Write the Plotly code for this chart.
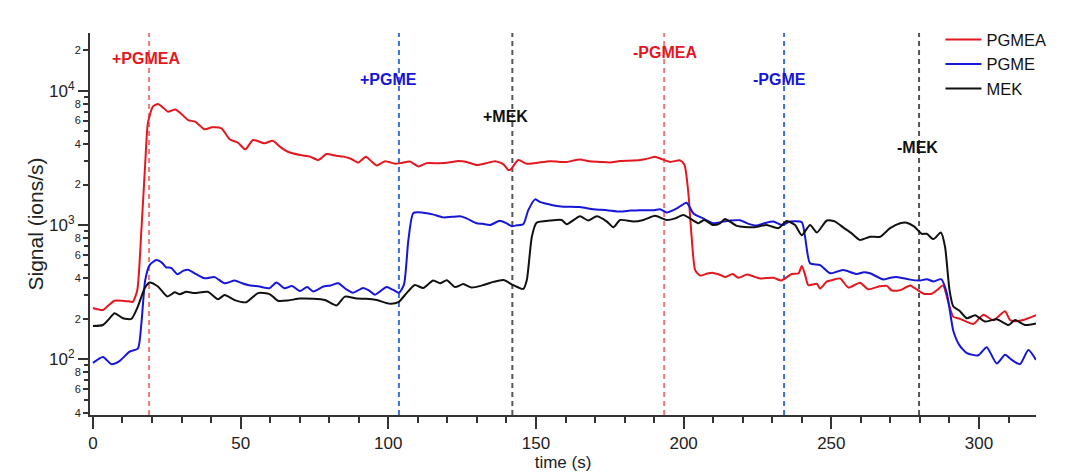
import plotly.graph_objects as go

# ---------------- data ----------------
t_pgmea = [0, 3.4, 5.5, 7.3, 10, 12, 13.5, 15, 16.4, 17.7, 18.6, 20.3, 22, 24, 25.4, 27.9, 30, 32.2, 34.6,
           37.8, 40.3, 43.5, 46.3, 49.1, 51.6, 54.2, 58.1, 60.9, 63.5, 66, 70.1, 73.5, 76.3, 79.1, 82, 84.8,
           87.5, 89.9, 92.4, 94.5, 96.1, 98.9, 102.3, 104.5, 107.3, 110.2, 113, 117.5, 120.5, 123.2, 126.5,
           129.9, 133, 136.2, 139, 140.6, 141.5, 144, 146.9, 150, 154.8, 158.1, 160.4, 164.9, 168, 171.7,
           175.1, 178.5, 183, 186.4, 188.5, 190.3, 192.5, 195.4, 198.8, 200.3, 201.6, 202.7, 203.9, 205.6,
           208, 210, 212, 214, 216.6, 218.5, 221.4, 223.5, 225.9, 230.4, 233, 236.6, 238.9, 240, 241.2,
           242.2, 245.1, 246.2, 248.5, 250.5, 253, 255.8, 259.7, 262.5, 266.5, 268.8, 270.4, 272.2, 273.8,
           276.7, 279, 281.2, 284, 286, 287.8, 289.7, 291.3, 293.5, 295.9, 298.1, 301.5, 304.9, 308.8,
           310.5, 312.2, 315, 319.3]
v_pgmea = [241, 233, 255, 273, 273, 270, 268, 327, 918, 2895, 5740, 7610, 7960, 7400, 6980, 7260, 6700, 6050,
           5880, 5160, 5340, 5250, 4350, 4100, 3660, 4300, 4060, 4240, 3800, 3515, 3320, 3230, 3050, 3380,
           3290, 3230, 3100, 2920, 3230, 2950, 2780, 2990, 2860, 2900, 2970, 2730, 2890, 2880, 2920, 2990,
           2950, 2800, 2880, 2990, 2830, 2570, 2600, 3050, 2860, 2900, 2990, 2950, 2950, 3080, 2980, 2950,
           2920, 3000, 3020, 3080, 3150, 3230, 3100, 2950, 3030, 2800, 1720, 818, 462, 420, 435, 440, 428,
           410, 431, 405, 428, 415, 400, 405, 386, 432, 437, 495, 420, 357, 365, 336, 380, 390, 400, 342,
           372, 332, 350, 352, 326, 324, 330, 355, 330, 308, 308, 330, 355, 261, 207, 200, 190, 183, 215,
           195, 228, 196, 192, 196, 213]

t_pgme = [0, 3.4, 6.2, 9, 12.4, 15.2, 16.4, 17.7, 19.2, 21.5, 23.5, 24.8, 26.5, 28.6, 30.5, 32.2, 35, 37.8,
          41.2, 44.6, 48, 50.5, 52.5, 56.4, 59.8, 62.1, 64.9, 67.4, 70.1, 72.5, 74.6, 78, 80.5, 83.1, 85.5,
          88, 91.5, 93.5, 95.5, 99.4, 101.5, 103.6, 105.3, 106.8, 108.5, 111.8, 115, 118.6, 121.5, 124.3,
          126.5, 129.9, 132, 134.4, 137.8, 140, 141.8, 143.5, 145.7, 147.4, 149.7, 151.5, 153.6, 156.5,
          159.3, 164.9, 169.4, 174, 178.5, 182, 185.2, 190, 192, 194.3, 197.7, 201, 203.3, 206.6, 210,
          213.4, 216, 219.1, 222, 224.7, 228, 230.4, 233.2, 236, 240, 241.1, 242.8, 246.2, 249.6, 252,
          254.1, 258.6, 261, 263.1, 267.6, 270, 272.1, 276.7, 280, 282.3, 284.6, 287.2, 289.1, 291.3,
          293.3, 295.9, 299.8, 302.6, 306, 308.8, 311.1, 313.9, 316.7, 319.3]
v_pgme = [94, 104, 92, 97, 114, 120, 185, 389, 503, 548, 520, 484, 480, 430, 455, 465, 430, 401, 409, 368,
          386, 368, 357, 348, 338, 373, 338, 352, 322, 345, 320, 348, 355, 368, 335, 313, 340, 325, 303,
          345, 330, 313, 360, 774, 1230, 1235, 1200, 1140, 1150, 1160, 1120, 1030, 1020, 1000, 1075, 1030,
          980, 995, 1012, 1290, 1553, 1480, 1440, 1390, 1370, 1360, 1310, 1290, 1260, 1280, 1290, 1290,
          1310, 1240, 1330, 1466, 1220, 1120, 1030, 1060, 1080, 1085, 1020, 990, 1040, 1060, 1000, 1060,
          1050, 818, 519, 503, 437, 450, 462, 432, 445, 437, 393, 405, 410, 392, 386, 395, 380, 395, 312,
          163, 128, 111, 107, 123, 93, 108, 99, 92, 117, 99]

t_mek = [0, 3.4, 5.5, 7.3, 10.2, 13, 15.2, 17.5, 19.2, 22, 25.2, 27.7, 29.4, 31.6, 34.4, 38.9, 42.3, 44.6,
         48, 51.9, 55.9, 59.8, 62.6, 66, 70.1, 74.6, 78.6, 82.5, 85.3, 89.3, 92.5, 96.1, 100.6, 103.4,
         106.2, 109, 111.8, 115.2, 117.5, 119.8, 122.6, 125.4, 128.2, 132.2, 135.6, 139, 142.3, 145.7,
         146.9, 148.6, 150.2, 154.8, 158.7, 160.4, 164.9, 167.7, 170.6, 174, 176.2, 178.5, 183, 186.4,
         190.3, 194.3, 197.1, 199.9, 202.7, 205, 206.9, 210, 212.3, 214, 218, 223.6, 228.1, 232.1, 234.9,
         237.7, 240, 242.8, 245.1, 248.5, 251.3, 254.1, 256.9, 259.7, 263.1, 266.5, 269.9, 273.3, 275.5,
         278, 280.6, 282.3, 284.6, 287.1, 288.5, 290, 291.3, 293.3, 295.9, 298.7, 302, 306, 310, 312.2,
         315.6, 319.3]
v_mek = [177, 180, 200, 220, 202, 200, 247, 338, 373, 348, 293, 315, 305, 318, 312, 318, 280, 301, 276, 266,
         311, 306, 273, 274, 283, 282, 276, 252, 293, 283, 282, 276, 259, 266, 311, 357, 340, 386, 368, 388,
         345, 363, 342, 357, 377, 389, 357, 334, 389, 818, 1040, 1080, 1090, 1013, 1160, 1080, 1160, 1060,
         962, 1090, 1060, 1090, 1170, 1090, 1120, 1185, 1100, 1030, 1090, 1000, 1030, 1110, 986, 962, 1000,
         948, 1070, 1000, 840, 1000, 880, 1080, 1060, 956, 866, 774, 818, 818, 948, 1030, 1040, 976, 860,
         860, 785, 880, 689, 330, 247, 231, 202, 213, 191, 199, 180, 196, 180, 185]

series_names = ["PGMEA", "PGME", "MEK"]
series_colors = ["#e3171f", "#1616d8", "#111111"]

# events (dashed markers)
event_times = [19.0, 103.6, 142.0, 193.4, 234.0, 279.7]
event_labels = ["+PGMEA", "+PGME", "+MEK", "-PGMEA", "-PGME", "-MEK"]
event_line_colors = ["#f07a7a", "#3d6fe0", "#555555", "#f07a7a", "#3d6fe0", "#555555"]
event_text_colors = ["#e3171f", "#1616d8", "#111111", "#e3171f", "#1616d8", "#111111"]
label_x = [17.9, 99.9, 139.8, 193.6, 232.3, 279.2]
label_y = [0.934, 0.877, 0.782, 0.950, 0.879, 0.700]

# axis ticks
x_major = [0, 50, 100, 150, 200, 250, 300]
x_minor = list(range(0, 320, 10))
y_major = [100, 1000, 10000]
y_major_text = ["10<sup>2</sup>", "10<sup>3</sup>", "10<sup>4</sup>"]
y_mid = [40, 60, 80, 200, 400, 600, 800, 2000, 4000, 6000, 8000, 20000]
y_mid_text = ["4", "6", "8", "2", "4", "6", "8", "2", "4", "6", "8", "2"]
y_small = [50, 70, 90, 300, 500, 700, 900, 3000, 5000, 7000, 9000]

x_range = [-1.0, 319.3]
y_range = [1.585, 4.430]

FONT = "Liberation Sans, Arial, sans-serif"

fig = go.Figure()
for t, v, name, col in zip([t_pgmea, t_pgme, t_mek], [v_pgmea, v_pgme, v_mek], series_names, series_colors):
    fig.add_trace(go.Scatter(x=t, y=v, name=name, mode="lines",
                             line=dict(color=col, width=2, shape="spline", smoothing=0.6)))

# dummy trace for the overlay axis carrying the intermediate tick labels
fig.add_trace(go.Scatter(x=[None], y=[None], yaxis="y2", showlegend=False, hoverinfo="skip"))

for tx, lc in zip(event_times, event_line_colors):
    fig.add_shape(type="line", xref="x", yref="paper", x0=tx, x1=tx, y0=0, y1=1,
                  line=dict(color=lc, width=2, dash="5px,4px"), layer="below")

for lx, ly, txt, tc in zip(label_x, label_y, event_labels, event_text_colors):
    fig.add_annotation(x=lx, y=ly, xref="x", yref="paper", text="<b>%s</b>" % txt, showarrow=False,
                       font=dict(family=FONT, size=16, color=tc),
                       xanchor="center", yanchor="middle")

fig.update_layout(
    width=1080, height=474,
    margin=dict(l=90, r=44, t=33, b=59),
    paper_bgcolor="white", plot_bgcolor="white",
    font=dict(family=FONT, color="#222222"),
    showlegend=True,
    legend=dict(x=0.899, y=1.028, xanchor="left", yanchor="top", bgcolor="rgba(0,0,0,0)",
                font=dict(family=FONT, size=16.5, color="#111111"), tracegroupgap=0,
                itemwidth=36),
    xaxis=dict(range=x_range, showgrid=False, zeroline=False, showline=True, linecolor="#333333",
               linewidth=2, ticks="outside", ticklen=12, tickwidth=2, tickcolor="#333333",
               tickvals=x_major, tickfont=dict(size=17, family=FONT, color="#222222"),
               ticklabelstandoff=0, automargin=False,
               minor=dict(tickvals=x_minor, ticks="outside", ticklen=6, tickwidth=2, tickcolor="#333333"),
               title=dict(text="time (s)", font=dict(size=17, family=FONT, color="#222222"), standoff=2)),
    yaxis=dict(type="log", range=y_range, showgrid=False, zeroline=False, showline=True,
               linecolor="#333333", linewidth=2, ticks="outside", ticklen=10, tickwidth=2,
               tickcolor="#333333", tickvals=y_major, ticktext=y_major_text, automargin=False,
               tickfont=dict(size=17, family=FONT, color="#222222"),
               title=dict(text="Signal (ions/s)", font=dict(size=21, family=FONT, color="#222222"), standoff=0)),
    yaxis2=dict(type="log", range=y_range, overlaying="y", side="left", anchor="x", showgrid=False,
                zeroline=False, showline=False, ticks="outside", ticklen=6, tickwidth=2, tickcolor="#333333",
                tickvals=y_mid, ticktext=y_mid_text, tickfont=dict(size=11, family=FONT, color="#222222"),
                automargin=False,
                minor=dict(tickvals=y_small, ticks="outside", ticklen=5, tickwidth=1.5, tickcolor="#333333")),
)

fig.write_html("out.html")
